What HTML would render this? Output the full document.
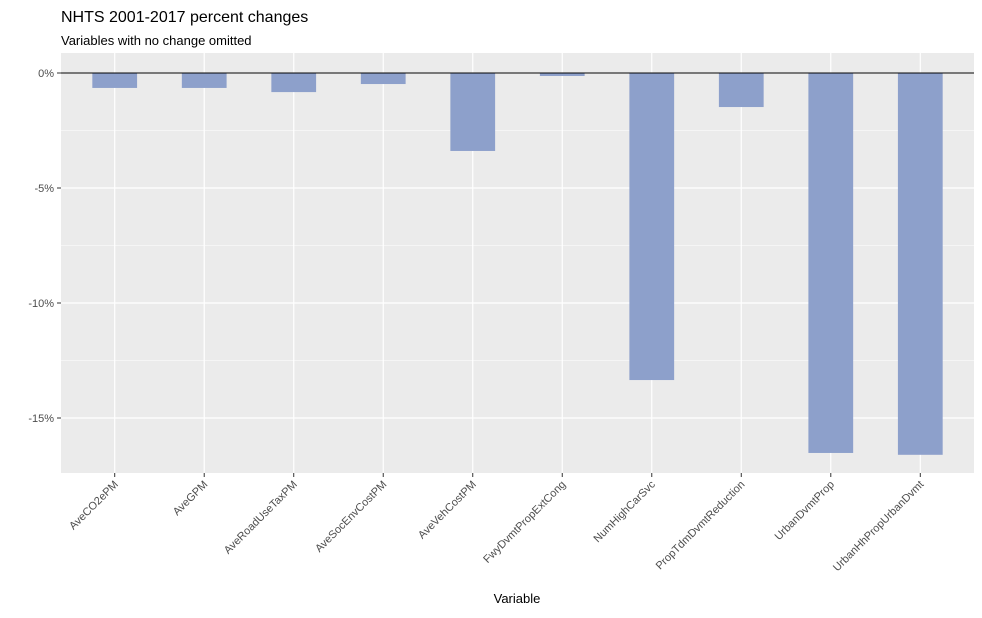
<!DOCTYPE html>
<html><head><meta charset="utf-8"><style>
body{margin:0;background:#fff;font-family:"Liberation Sans",Arial,sans-serif}
</style></head><body>
<svg id="chart" width="982" height="613" xmlns="http://www.w3.org/2000/svg" font-family="Liberation Sans, Arial, sans-serif">
<text x="61" y="22" font-size="16" fill="#000">NHTS 2001-2017 percent changes</text>
<text x="61" y="45" font-size="13" fill="#000">Variables with no change omitted</text>
<rect x="61" y="53" width="913" height="420" fill="#ebebeb"/>
<g id="grid"></g><g id="bars"></g><g id="axes"></g>
<text x="517" y="603" font-size="13" text-anchor="middle" fill="#000">Variable</text>
</svg>
<script>
const categories=["AveCO2ePM","AveGPM","AveRoadUseTaxPM","AveSocEnvCostPM","AveVehCostPM","FwyDvmtPropExtCong","NumHighCarSvc","PropTdmDvmtReduction","UrbanDvmtProp","UrbanHhPropUrbanDvmt"];
const values=[-0.65,-0.65,-0.83,-0.48,-3.39,-0.13,-13.35,-1.48,-16.52,-16.6];
const yTicks=[0,-5,-10,-15];
const yTickLabels=["0%","-5%","-10%","-15%"];
const NS="http://www.w3.org/2000/svg";
const L=61,R=974,T=53,B=473;
const y=v=>73+(-v)*23;
const step=(R-L)/(categories.length-1+1.2);
const x=i=>L+step*(0.6+i);
function mk(t,a,p){const e=document.createElementNS(NS,t);for(const k in a)e.setAttribute(k,a[k]);p.appendChild(e);return e;}
const grid=document.getElementById('grid'),bars=document.getElementById('bars'),axes=document.getElementById('axes');
for(let k=0;k<yTicks.length-1;k++){const v=(yTicks[k]+yTicks[k+1])/2;
const g=mk('line',{x1:L,x2:R,y1:y(v),y2:y(v),stroke:'#fff','stroke-width':0.6},grid);

}
{const v=yTicks[yTicks.length-1]-2.5;if(y(v)<B){const g=mk('line',{x1:L,x2:R,y1:y(v),y2:y(v),stroke:'#fff','stroke-width':0.6},grid);

}}
yTicks.forEach((v,k)=>{
const g=mk('line',{x1:L,x2:R,y1:y(v),y2:y(v),stroke:'#fff','stroke-width':1.2},grid);


const t=mk('line',{x1:57,x2:L,y1:y(v),y2:y(v),stroke:'#333','stroke-width':1},axes);


const tx=mk('text',{x:54,y:y(v)+4,'font-size':11,'text-anchor':'end',fill:'#4d4d4d'},axes);tx.textContent=yTickLabels[k];

});
categories.forEach((c,i)=>{
const cx=x(i);
const g=mk('line',{x1:cx,x2:cx,y1:T,y2:B,stroke:'#fff','stroke-width':1.2},grid);


const w=step*0.5;
const b=mk('rect',{x:cx-w/2,y:y(0),width:w,height:y(values[i])-y(0),fill:'#8da0cb'},bars);


const t=mk('line',{x1:cx,x2:cx,y1:B,y2:B+4,stroke:'#333','stroke-width':1},axes);


const tx=mk('text',{x:cx+4,y:B+12,'font-size':11,'text-anchor':'end',fill:'#4d4d4d',transform:`rotate(-45 ${cx+4} ${B+12})`},axes);tx.textContent=c;

});
const z=mk('line',{x1:L,x2:R,y1:y(0),y2:y(0),stroke:'#000','stroke-width':1},axes);


</script>
</body></html>
